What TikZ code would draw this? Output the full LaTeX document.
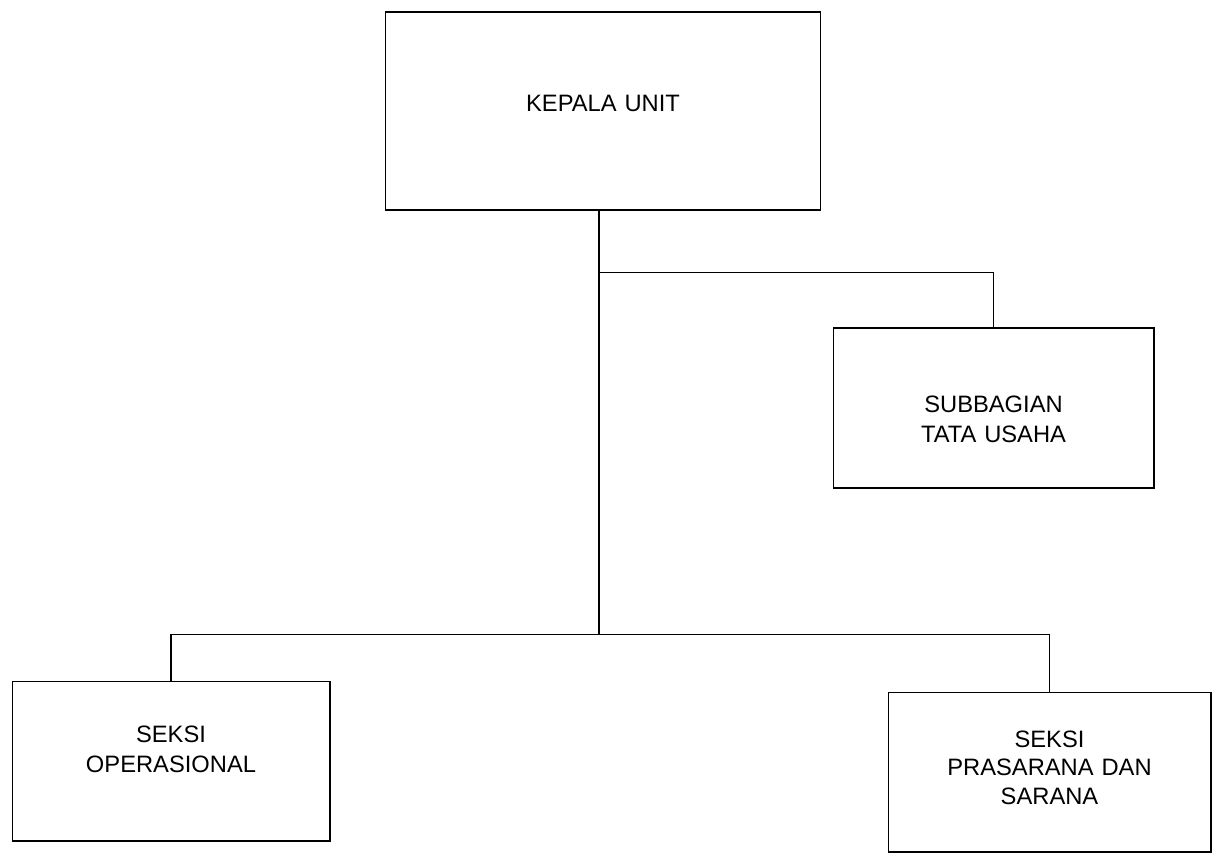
\documentclass[tikz,border=0pt]{standalone}
\usepackage{fontspec}
\setmainfont{Liberation Sans}
\usepackage{tikz}
\usetikzlibrary{positioning,calc}

\begin{document}
\begin{tikzpicture}[x=0.02cm, y=-0.02cm,
    unitbox/.style={draw, line width=0.6pt, align=center, inner sep=0pt,
        text width=6cm, minimum height=3.2cm,
        font=\fontsize{13.5}{17}\selectfont},
    link/.style={line width=0.6pt}]
    \useasboundingbox (0,0) rectangle (1213,853);

    % Top: head of unit
    \node[unitbox, minimum width=8.72cm, minimum height=3.96cm] (kepala) at (603,111) {KEPALA UNIT\\[-8pt]\mbox{}};

    % Staff box on the right
    \node[unitbox, minimum width=6.42cm] (subbag) at (993.5,408) {\mbox{}\\[5pt]SUBBAGIAN\\TATA USAHA};

    % Bottom row: sections
    \node[unitbox, minimum width=6.36cm] (operasi) at (171,761) {SEKSI\\OPERASIONAL\\[-3.5pt]\mbox{}};
    \node[unitbox, minimum width=6.46cm] (prasar) at (1049.5,772) {SEKSI\\[-1pt]PRASARANA DAN\\[-1pt]SARANA\\[-12pt]\mbox{}};

    % Junctions on the main line
    \coordinate (jtop) at ($(kepala.south)+(-4,62)$);
    \coordinate (jbot) at ($(kepala.south)+(-4,424)$);

    % Connectors
    \draw[link] (jtop |- kepala.south) -- (jbot);
    \draw[link] (jtop) -| (subbag.north);
    \draw[link] (operasi.north) |- (jbot) -| (prasar.north);
\end{tikzpicture}
\end{document}
